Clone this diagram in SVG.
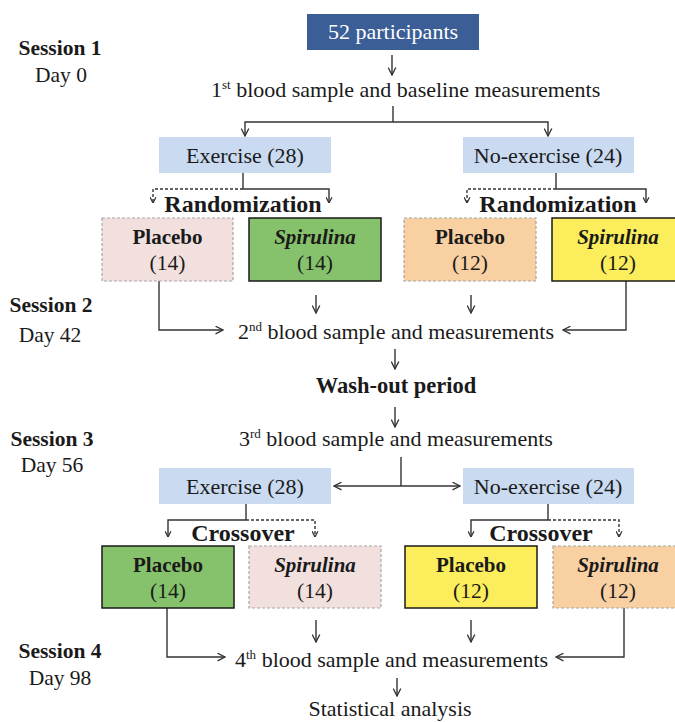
<svg xmlns="http://www.w3.org/2000/svg" width="675" height="722" viewBox="0 0 675 722">
  <style>
    text { font-family: "Times New Roman", Times, "Liberation Serif", Tinos, "Nimbus Roman", "Nimbus Roman No9 L", "Noto Serif", "DejaVu Serif", serif; fill: #1a1a1a; }
    .t { font-size: 22px; }
    .ses { font-size: 21.5px; font-weight: bold; }
    .day { font-size: 21.5px; }
    .hd { font-size: 24px; font-weight: bold; }
    .wash { font-size: 22.5px; font-weight: bold; }
    .nm { font-size: 21px; font-weight: bold; }
    .it { font-style: italic; }
    .n { font-size: 21.5px; }
    .sup { font-size: 13px; }
    .ln { fill: none; stroke: #333; stroke-width: 1.4; }
    .dash { stroke-dasharray: 3 2; }
    .arr { marker-end: url(#head); }
    .sarr { marker-end: url(#shead); }
    .solid { stroke: #1a1a1a; stroke-width: 1.5; }
    .dbox { stroke: #a6a6a6; stroke-width: 1.2; stroke-dasharray: 3 2; }
    .grp { fill: #c9daf1; }
    .pink { fill: #f2e0df; }
    .green { fill: #86c26b; }
    .orange { fill: #f9d0a2; }
    .yellow { fill: #fbed5c; }
  </style>
  <defs>
    <marker id="head" viewBox="0 0 10 10" refX="9.3" refY="5" markerWidth="9" markerHeight="9" markerUnits="userSpaceOnUse" orient="auto">
      <path d="M1,0.8 L9.3,5 L1,9.2" fill="none" stroke="#333" stroke-width="1.5"/>
    </marker>
    <marker id="shead" viewBox="0 0 10 10" refX="9.3" refY="5" markerWidth="7" markerHeight="7" markerUnits="userSpaceOnUse" orient="auto">
      <path d="M1,0.8 L9.3,5 L1,9.2" fill="none" stroke="#333" stroke-width="1.8"/>
    </marker>
  </defs>

  <!-- session labels -->
  <g id="session-labels">
    <text class="ses" x="60" y="55" text-anchor="middle">Session 1</text>
    <text class="day" x="61" y="82" text-anchor="middle">Day 0</text>
    <text class="ses" x="51" y="312" text-anchor="middle">Session 2</text>
    <text class="day" x="50" y="342" text-anchor="middle">Day 42</text>
    <text class="ses" x="52" y="446" text-anchor="middle">Session 3</text>
    <text class="day" x="52" y="472" text-anchor="middle">Day 56</text>
    <text class="ses" x="60" y="658" text-anchor="middle">Session 4</text>
    <text class="day" x="60" y="685" text-anchor="middle">Day 98</text>
  </g>

  <!-- connectors -->
  <g id="connectors">
    <!-- session 1 -->
    <line class="ln arr" x1="392" y1="55" x2="392" y2="75"/>
    <line class="ln" x1="393" y1="106" x2="393" y2="122"/>
    <polyline class="ln arr" points="393,122 245,122 245,136"/>
    <polyline class="ln arr" points="393,122 548,122 548,136"/>
    <!-- randomization -->
    <line class="ln" x1="243" y1="173" x2="243" y2="189"/>
    <polyline class="ln dash sarr" points="243,189 153,189 153,203"/>
    <polyline class="ln sarr" points="243,189 329,189 329,203"/>
    <line class="ln" x1="556" y1="173" x2="556" y2="189"/>
    <polyline class="ln dash sarr" points="556,189 467,189 467,203"/>
    <polyline class="ln sarr" points="556,189 646,189 646,203"/>
    <!-- session 2 -->
    <polyline class="ln arr" points="159,281 159,330 223,330"/>
    <line class="ln arr" x1="316" y1="295" x2="316" y2="313"/>
    <line class="ln arr" x1="471" y1="295" x2="471" y2="313"/>
    <polyline class="ln arr" points="626,281 626,330 563,330"/>
    <line class="ln arr" x1="395" y1="349" x2="395" y2="369"/>
    <line class="ln arr" x1="395" y1="407" x2="395" y2="427"/>
    <!-- session 3 -->
    <line class="ln" x1="401" y1="457" x2="401" y2="486"/>
    <line class="ln arr" x1="401" y1="486" x2="334" y2="486"/>
    <line class="ln arr" x1="401" y1="486" x2="460" y2="486"/>
    <!-- crossover -->
    <line class="ln" x1="246" y1="504" x2="246" y2="520"/>
    <polyline class="ln sarr" points="246,520 168,520 168,537"/>
    <polyline class="ln dash sarr" points="246,520 315,520 315,537"/>
    <line class="ln" x1="548" y1="504" x2="548" y2="520"/>
    <polyline class="ln sarr" points="548,520 471,520 471,537"/>
    <polyline class="ln dash sarr" points="548,520 619,520 619,537"/>
    <!-- session 4 -->
    <polyline class="ln arr" points="167,608 167,657 225,657"/>
    <line class="ln arr" x1="316" y1="620" x2="316" y2="642"/>
    <line class="ln arr" x1="471" y1="620" x2="471" y2="642"/>
    <polyline class="ln arr" points="624,608 624,657 556,657"/>
    <line class="ln arr" x1="397" y1="678" x2="397" y2="696"/>
  </g>

  <g id="participants">
    <rect x="307" y="14" width="172" height="36" fill="#3a5e95"/>
    <text class="t" x="393" y="39" text-anchor="middle" style="fill:#ffffff">52 participants</text>
  </g>

  <g id="baseline-sample">
    <text class="t" x="211" y="97">1<tspan class="sup" dy="-8">st</tspan><tspan dy="8"> blood sample and baseline measurements</tspan></text>
  </g>

  <g id="exercise-1">
    <rect class="grp" x="159" y="137" width="172" height="36"/>
    <text class="t" x="245" y="163" text-anchor="middle">Exercise (28)</text>
  </g>
  <g id="noexercise-1">
    <rect class="grp" x="463" y="137" width="171" height="36"/>
    <text class="t" x="548" y="163" text-anchor="middle">No-exercise (24)</text>
  </g>

  <g id="randomization-left">
    <text class="hd" x="243" y="212" text-anchor="middle">Randomization</text>
  </g>
  <g id="randomization-right">
    <text class="hd" x="558" y="212" text-anchor="middle">Randomization</text>
  </g>

  <g id="ex-placebo-1">
    <rect class="pink dbox" x="102" y="218" width="131" height="63"/>
    <text class="nm" x="167.5" y="244" text-anchor="middle">Placebo</text>
    <text class="n" x="167.5" y="270" text-anchor="middle">(14)</text>
  </g>
  <g id="ex-spirulina-1">
    <rect class="green solid" x="249" y="218" width="132" height="63"/>
    <text class="nm it" x="315" y="244" text-anchor="middle">Spirulina</text>
    <text class="n" x="315" y="270" text-anchor="middle">(14)</text>
  </g>
  <g id="noex-placebo-1">
    <rect class="orange dbox" x="404" y="218" width="132" height="63"/>
    <text class="nm" x="470" y="244" text-anchor="middle">Placebo</text>
    <text class="n" x="470" y="270" text-anchor="middle">(12)</text>
  </g>
  <g id="noex-spirulina-1">
    <rect class="yellow solid" x="552" y="218" width="132" height="63"/>
    <text class="nm it" x="618" y="244" text-anchor="middle">Spirulina</text>
    <text class="n" x="618" y="270" text-anchor="middle">(12)</text>
  </g>

  <g id="second-sample">
    <text class="t" x="238" y="339">2<tspan class="sup" dy="-8">nd</tspan><tspan dy="8"> blood sample and measurements</tspan></text>
  </g>
  <g id="washout">
    <text class="wash" x="396" y="393" text-anchor="middle">Wash-out period</text>
  </g>
  <g id="third-sample">
    <text class="t" x="239" y="446">3<tspan class="sup" dy="-8">rd</tspan><tspan dy="8"> blood sample and measurements</tspan></text>
  </g>

  <g id="exercise-2">
    <rect class="grp" x="159" y="468" width="172" height="36"/>
    <text class="t" x="245" y="494" text-anchor="middle">Exercise (28)</text>
  </g>
  <g id="noexercise-2">
    <rect class="grp" x="463" y="468" width="171" height="36"/>
    <text class="t" x="548" y="494" text-anchor="middle">No-exercise (24)</text>
  </g>

  <g id="crossover-left">
    <text class="hd" x="243" y="541" text-anchor="middle">Crossover</text>
  </g>
  <g id="crossover-right">
    <text class="hd" x="541" y="541" text-anchor="middle">Crossover</text>
  </g>

  <g id="ex-placebo-2">
    <rect class="green solid" x="102" y="546" width="132" height="62"/>
    <text class="nm" x="168" y="572" text-anchor="middle">Placebo</text>
    <text class="n" x="168" y="598" text-anchor="middle">(14)</text>
  </g>
  <g id="ex-spirulina-2">
    <rect class="pink dbox" x="249" y="546" width="132" height="62"/>
    <text class="nm it" x="315" y="572" text-anchor="middle">Spirulina</text>
    <text class="n" x="315" y="598" text-anchor="middle">(14)</text>
  </g>
  <g id="noex-placebo-2">
    <rect class="yellow solid" x="405" y="546" width="132" height="62"/>
    <text class="nm" x="471" y="572" text-anchor="middle">Placebo</text>
    <text class="n" x="471" y="598" text-anchor="middle">(12)</text>
  </g>
  <g id="noex-spirulina-2">
    <rect class="orange dbox" x="553" y="546" width="132" height="62"/>
    <text class="nm it" x="618" y="572" text-anchor="middle">Spirulina</text>
    <text class="n" x="618" y="598" text-anchor="middle">(12)</text>
  </g>

  <g id="fourth-sample">
    <text class="t" x="235" y="667">4<tspan class="sup" dy="-8">th</tspan><tspan dy="8"> blood sample and measurements</tspan></text>
  </g>
  <g id="statistics">
    <text class="t" x="390" y="716" text-anchor="middle">Statistical analysis</text>
  </g>
</svg>
